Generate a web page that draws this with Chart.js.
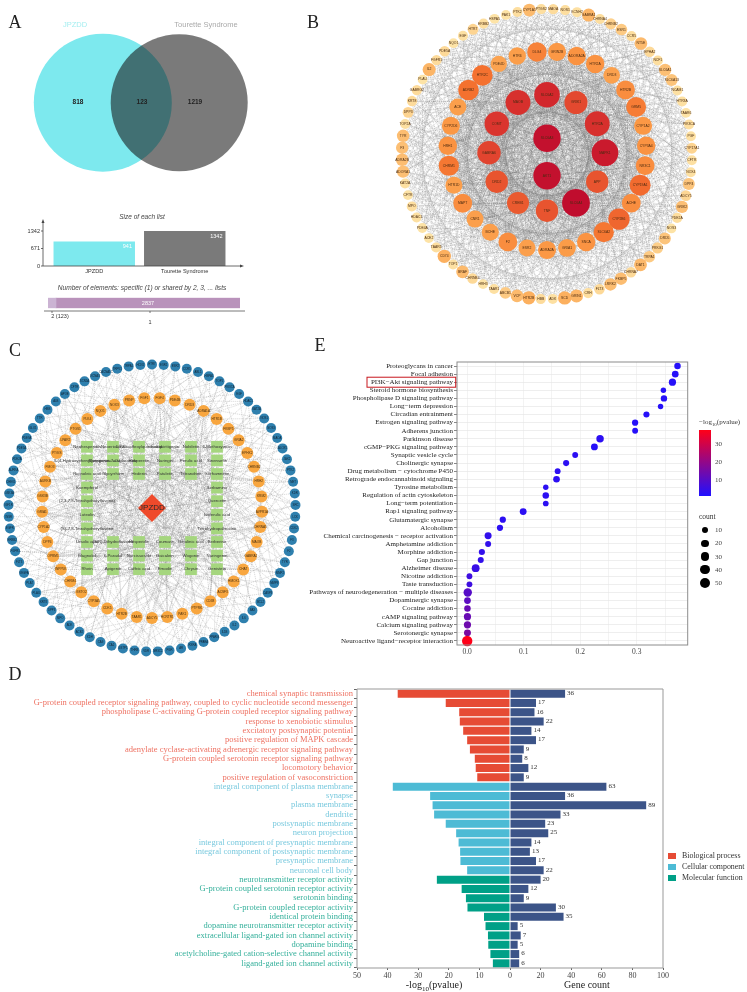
<!DOCTYPE html>
<html>
<head>
<meta charset="utf-8">
<script src="https://cdn.jsdelivr.net/npm/chart.js@4/dist/chart.umd.min.js"></script>
<style>
  html, body { margin: 0; padding: 0; background: #fff; }
  #page { position: relative; width: 747px; height: 992px; overflow: hidden; filter: blur(0.3px); }
  canvas { position: absolute; }
  .t { position: absolute; white-space: nowrap; transform: translate(-50%, -50%); font-family: "Liberation Sans", sans-serif; line-height: 1; }
  .s { font-family: "Liberation Serif", serif; }
  .l { transform: translate(0, -50%); }
  .letter { font-family: "Liberation Serif", serif; font-size: 18px; color: #222; }
  sub { font-size: 70%; line-height: 0; }
  .box { position: absolute; }
</style>
</head>
<body>
<div id="page">
  <div class="t letter" style="left:15px;top:22px">A</div>
  <div class="t letter" style="left:313px;top:22px">B</div>
  <div class="t letter" style="left:15px;top:350px">C</div>
  <div class="t letter" style="left:320px;top:345px">E</div>
  <div class="t letter" style="left:15px;top:674px">D</div>

  <canvas id="venn" width="290" height="180" style="left:0;top:0"></canvas>
  <div class="t" style="left:75px;top:25px;font-size:7.5px;color:#a5eef0">JPZDD</div>
  <div class="t" style="left:206px;top:25px;font-size:7.5px;color:#aaa">Tourette Syndrome</div>

  <div class="t" style="left:142px;top:217px;font-size:6.5px;font-style:italic;color:#444">Size of each list</div>
  <canvas id="listSize" width="250" height="65" style="left:0;top:215px"></canvas>
  <div class="t" style="left:142px;top:288px;font-size:6.6px;font-style:italic;color:#444">Number of elements: specific (1) or shared by 2, 3, ... lists</div>
  <canvas id="shared" width="210" height="28" style="left:40px;top:292px"></canvas>
  <div class="t" style="left:60px;top:317px;font-size:5.5px;color:#333">2 (123)</div>
  <div class="t" style="left:150px;top:323px;font-size:5.5px;color:#333">1</div>

  <canvas id="netB" width="310" height="310" style="left:392px;top:-2px"></canvas>
  <canvas id="netC" width="310" height="310" style="left:-3px;top:353px"></canvas>

  <canvas id="pathways" width="400" height="307" style="left:300px;top:350px"></canvas>
  <div class="t s l" style="left:699px;top:422px;font-size:7px;color:#333">&minus;log<sub>10</sub>(pvalue)</div>
  <div class="box" style="left:699px;top:430px;width:12px;height:66px;background:linear-gradient(to top,#2010ff,#ff0018)"></div>
  <div class="t s l" style="left:715px;top:444px;font-size:7px;color:#444">30</div>
  <div class="t s l" style="left:715px;top:462px;font-size:7px;color:#444">20</div>
  <div class="t s l" style="left:715px;top:480px;font-size:7px;color:#444">10</div>
  <div class="t s l" style="left:699px;top:517px;font-size:7.5px;color:#333">count</div>
  <div id="countKey"></div>

  <canvas id="goLeft" width="520" height="300" style="left:0;top:680px"></canvas>
  <canvas id="goRight" width="247" height="300" style="left:500px;top:680px"></canvas>
  <div class="t s" style="left:434px;top:985px;font-size:10px;color:#222">-log<sub>10</sub>(pvalue)</div>
  <div class="t s" style="left:587px;top:985px;font-size:10px;color:#222">Gene count</div>
  <div id="goKey"></div>
</div>

<script>
// panel A
const vennSets = ['JPZDD', 'Tourette Syndrome'];
const vennCounts = [818, 123, 1219];
const listTotals = [941, 1342];
const listTicks = [0, 671, 1342];
const sharedCounts = [123, 2837];

// panel B, rings from the centre out, clockwise from the top
const bCentre = ['SLC6A3', 'AKT1'];
const bCentreDegree = [108, 108];
const bInner = ['SLC6A2', 'GRIK1', 'HTR2A', 'MAPK1', 'APP', 'SLC6A4', 'TNF', 'CREB1', 'DRD2', 'GABRA6', 'COMT', 'MAOB'];
const bInnerDegree = [98, 84, 94, 104, 80, 110, 80, 78, 80, 86, 92, 94];
const bMiddle = ['GRIN2B', 'ADORA2A', 'HTR2A', 'DRD3', 'HTR2B', 'GRM5', 'CYP1A2', 'CYP3A4', 'NR3C1', 'CYP19A1', 'ACHE', 'CYP2B6', 'SLC6A2', 'SNCA', 'GRIA1', 'ADRA2A', 'ESR2', 'F2', 'BCHE', 'CNR1', 'MAPT', 'HTR1D', 'CHRM1', 'HRH1', 'CYP2D6', 'ACE', 'ADRB2', 'HTR2C', 'PDE4D', 'HTR6', 'DLG4'];
const bMiddleDegree = [56, 58, 58, 48, 60, 66, 56, 58, 60, 72, 60, 74, 68, 58, 54, 56, 50, 60, 50, 50, 60, 50, 68, 58, 56, 50, 70, 70, 46, 52, 64];
const bOuter = ['CYP1A1', 'PTGS2', 'MAOA', 'NOS1', 'KCNH2', 'GABRA1', 'CHRNA4', 'CHRNB2', 'ESR1', 'CCR5', 'NT5E', 'EPHA2', 'NCF1', 'SLC6A1', 'SLC6A13', 'NCAM1', 'HTR3A', 'TAAR6', 'PIK3CA', 'PGF', 'CYP17A1', 'CFTR', 'NOX4', 'DPP4', 'ADCY5', 'GRIK2', 'PDE2A', 'NOS3', 'DRD5', 'PRKG1', 'TRPA1', 'DAT1', 'CHRNA7', 'FKBP5', 'LRRK2', 'FLT3', 'CRH', 'GRIN1', 'SCD', 'ADK', 'HBB', 'HTR2B', 'VCP', 'ABCB1', 'TAAR1', 'HRH3', 'CHRNB4', 'BRAF', 'TOP1', 'CD74', 'TAAR5', 'ACE2', 'PDE4A', 'HDAC1', 'MPO', 'CFTR', 'KAT2A', 'ADORA1', 'ADRA2B', 'F3', 'TYR', 'TOP2A', 'DPP3', 'KRT8', 'GABRG2', 'PLAU', 'IL2', 'FGFR1', 'PDE5A', 'NQO1', 'EGF', 'HTR7', 'ERBB2', 'HSPA5', 'PAK1', 'PTK2'];
const bOuterDegree = [26, 12, 13, 12, 11, 28, 12, 17, 20, 12, 26, 14, 12, 24, 22, 11, 11, 10, 12, 11, 16, 11, 11, 22, 15, 24, 12, 10, 22, 18, 20, 27, 14, 25, 25, 14, 12, 28, 30, 11, 13, 30, 26, 20, 11, 10, 14, 26, 11, 30, 12, 10, 10, 11, 12, 10, 11, 24, 25, 24, 25, 11, 16, 13, 13, 10, 28, 13, 14, 10, 11, 16, 12, 10, 10, 12];
const bLevels = [10, 30, 55, 70, 85, 100, 110];
const bShades = ['#fde3a6', '#fcb05f', '#fb9b47', '#f4712f', '#e2462f', '#d0222c', '#c00d2e'];

// panel C
const cHub = 'JPZDD';
const cCompounds = [
  'Neohesperidin', 'Neoeriocitrin', '1,3-Dicaffeoylquinic acid', 'Isoliquiritigenin', 'Nobiletin', '6-Methoxytricin',
  '3-(4-Hydroxyphenyl)propanoic acid', 'Naringenin-7-O-glucoside', 'Hesperetin', 'Naringin', 'Ferulic acid', 'Sinensetin',
  'Ricinoleic acid', 'Glycyrrhizin', 'Hederin', 'Patuletin', 'Tetrandrine', 'Isorhamnetin',
  'Kaempferol', 'Berbamine', '(2,3,7,8-Tetrahydroxyflavone)', 'Quercetin', 'Luteolin', 'Isoferulic acid',
  '(S)-7,8-Tetrahydroxyflavone', 'Tetrahydropalmatine', 'Ursolic acid', '(S,R)-Dihydroflavonol',
  'Hesperidin', 'Coumarin', 'Betulinic acid', 'Berberine', 'Magnolol', '6-Paradol',
  'Narcissoside', 'Baicalein', 'Wogonin', 'Naringenin', 'Rhein', 'Apigenin',
  'Caffeic acid', 'Emodin', 'Chrysin', 'Genistein'
];
const cOrange = ['FGF1', 'FGF4', 'PDE4B', 'DRD3', 'ADRA1A', 'HTR1B', 'FKBP5', 'GRIA2', 'EPHX2', 'CHRNB2', 'HRH2', 'KRM2', 'AVPR1A', 'CHRNA5', 'MAOB', 'GABRA2', 'CHAT', 'HMOX1', 'ACSF3', 'CD38', 'PTPRK', 'PAK1', 'HCRTR1', 'ADCY5', 'TAAR1', 'HTR2B', 'CDK5', 'CYP3A5', 'GSTO2', 'CHRM4', 'INPP5K', 'OPRM1', 'DPP4', 'CYP1A2', 'GRIA1', 'GSK3B', 'AURKB', 'FMO3', 'PTGIS', 'LPAR2', 'PTGS1', 'PLK4', 'NQO1', 'NOX3', 'PRNP'];
const cBlue = ['HTR7', 'ESR1', 'ESR2', 'CCR5', 'ABL1', 'HSPA5', 'TOP1', 'PIK3CA', 'EGF', 'HDAC1', 'KAT2A', 'NOS1', 'NOS3', 'MAOA', 'ALOX5', 'JAK2', 'PTK2', 'MET', 'KDR', 'SRC', 'LCK', 'CDK2', 'F3', 'F2', 'TYR', 'MMP2', 'MMP9', 'CASP3', 'BCL2', 'BAX', 'IL6', 'IL2', 'IL1B', 'PPARG', 'PPARA', 'RXRA', 'AR', 'PGR', 'NR3C2', 'VDR', 'THRB', 'GSTP1', 'CA2', 'CA9', 'XDH', 'ACE2', 'ADK', 'MPO', 'DPP3', 'KRT8', 'PLAU', 'PLAT', 'VEGFA', 'FLT3', 'FGFR1', 'ERBB2', 'EGFR', 'INSR', 'IGF1R', 'GSK3A', 'CHEK1', 'AURKA', 'PDE2A', 'PDE5A', 'PDE9A', 'GLO1', 'TTR', 'HBB', 'ALB', 'APOE', 'CFTR', 'SCN5A', 'KCNA3', 'CACNA1C', 'TRPV1', 'TRPA1', 'HCN1'];

// panel E
const pathwayNames = ['Proteoglycans in cancer', 'Focal adhesion', 'PI3K\u2212Akt signaling pathway', 'Steroid hormone biosynthesis', 'Phospholipase D signaling pathway', 'Long\u2212term depression', 'Circadian entrainment', 'Estrogen signaling pathway', 'Adherens junction', 'Parkinson disease', 'cGMP\u2212PKG signaling pathway', 'Synaptic vesicle cycle', 'Cholinergic synapse', 'Drug metabolism \u2212 cytochrome P450', 'Retrograde endocannabinoid signaling', 'Tyrosine metabolism', 'Regulation of actin cytoskeleton', 'Long\u2212term potentiation', 'Rap1 signaling pathway', 'Glutamatergic synapse', 'Alcoholism', 'Chemical carcinogenesis \u2212 receptor activation', 'Amphetamine addiction', 'Morphine addiction', 'Gap junction', 'Alzheimer disease', 'Nicotine addiction', 'Taste transduction', 'Pathways of neurodegeneration \u2212 multiple diseases', 'Dopaminergic synapse', 'Cocaine addiction', 'cAMP signaling pathway', 'Calcium signaling pathway', 'Serotonergic synapse', 'Neuroactive ligand\u2212receptor interaction'];
const pathwayRatio = [0.372, 0.368, 0.363, 0.347, 0.348, 0.342, 0.317, 0.297, 0.297, 0.235, 0.225, 0.191, 0.175, 0.160, 0.158, 0.139, 0.139, 0.139, 0.099, 0.063, 0.058, 0.037, 0.037, 0.026, 0.024, 0.015, 0.004, 0.004, 0.001, 0.0005, 0.0005, 0.0005, 0.0005, 0.0005, 0];
const pathwayCount = [14, 15, 20, 6, 13, 6, 11, 12, 9, 22, 17, 9, 11, 9, 15, 6, 14, 8, 17, 12, 12, 18, 10, 11, 10, 26, 9, 9, 32, 16, 14, 20, 20, 18, 55];
const pathwayLogP = [2, 2, 2, 2, 2, 2, 2, 2, 2, 3, 2, 3, 3, 3, 3, 3, 3, 3, 3, 3, 3, 4, 4, 4, 4, 5, 6, 6, 10, 11, 13, 13, 14, 16, 38];
const countKeyValues = [10, 20, 30, 40, 50];

// panel D
const bpTerms = ['chemical synaptic transmission', 'G-protein coupled receptor signaling pathway, coupled to cyclic nucleotide second messenger', 'phospholipase C-activating G-protein coupled receptor signaling pathway', 'response to xenobiotic stimulus', 'excitatory postsynaptic potential', 'positive regulation of MAPK cascade', 'adenylate cyclase-activating adrenergic receptor signaling pathway', 'G-protein coupled serotonin receptor signaling pathway', 'locomotory behavior', 'positive regulation of vasoconstriction'];
const ccTerms = ['integral component of plasma membrane', 'synapse', 'plasma membrane', 'dendrite', 'postsynaptic membrane', 'neuron projection', 'integral component of presynaptic membrane', 'integral component of postsynaptic membrane', 'presynaptic membrane', 'neuronal cell body'];
const mfTerms = ['neurotransmitter receptor activity', 'G-protein coupled serotonin receptor activity', 'serotonin binding', 'G-protein coupled receptor activity', 'identical protein binding', 'dopamine neurotransmitter receptor activity', 'extracellular ligand-gated ion channel activity', 'dopamine binding', 'acetylcholine-gated cation-selective channel activity', 'ligand-gated ion channel activity'];
const bpLogP = [36.7, 21, 16.6, 16.4, 15.3, 14, 13.1, 11.5, 11.2, 10.7];
const ccLogP = [38.3, 26.1, 25.3, 24.8, 21, 17.6, 16.8, 16.3, 16.2, 14];
const mfLogP = [23.9, 15.8, 14.4, 13.9, 8.5, 8, 7.2, 7.1, 6.4, 5.6];
const geneCounts = [36, 17, 16, 22, 14, 17, 9, 8, 12, 9, 63, 36, 89, 33, 23, 25, 14, 13, 17, 22, 20, 12, 9, 30, 35, 5, 7, 5, 6, 6];
const goNames = ['Biological process', 'Cellular component', 'Molecular function'];

Chart.defaults.animation = false;
Chart.defaults.responsive = false;
Chart.defaults.events = [];
Chart.defaults.layout.autoPadding = false;
Chart.defaults.plugins.legend.display = false;
Chart.defaults.plugins.tooltip.enabled = false;

const SERIF = '"Liberation Serif", serif';
const SANS = '"Liberation Sans", sans-serif';

function hidden(min, max) {
  return { type: 'linear', display: false, min: min, max: max };
}

// names written on top of the nodes of a dataset
const nodeNames = {
  id: 'nodeNames',
  afterDatasetsDraw(chart) {
    const ctx = chart.ctx;
    ctx.save();
    ctx.textAlign = 'center';
    ctx.textBaseline = 'middle';
    chart.data.datasets.forEach((ds, i) => {
      if (!ds.names) return;
      ctx.font = ds.nameFont;
      ctx.fillStyle = ds.nameColor;
      chart.getDatasetMeta(i).data.forEach((el, k) => ctx.fillText(ds.names[k], el.x, el.y));
    });
    ctx.restore();
  },
};

function ringNodes(names, radius, startDeg, cy) {
  const step = 360 / names.length;
  return names.map((n, i) => {
    const a = (startDeg + i * step) * Math.PI / 180;
    return { x: radius * Math.sin(a), y: cy + radius * Math.cos(a) };
  });
}

function pushEdge(list, a, b) {
  list.push({ x: a.x, y: a.y }, { x: b.x, y: b.y }, { x: null, y: null });
}

function edgeSet(points, colour, width) {
  return { type: 'scatter', data: points, showLine: true, spanGaps: false, pointRadius: 0, borderColor: colour, borderWidth: width, borderDash: [1.2, 0.8], order: 5, clip: false };
}

// ---- A
new Chart(document.getElementById('venn'), {
  type: 'bubble',
  data: {
    datasets: [
      { data: [{ x: 38.2, y: 0, r: 68.5 }], backgroundColor: 'rgba(18,18,18,0.56)', borderWidth: 0, order: 1, clip: false },
      { data: [{ x: -38.2, y: 0, r: 69 }], backgroundColor: '#7de9ee', borderWidth: 0, order: 2, clip: false },
    ],
  },
  options: { layout: { padding: 0 }, scales: { x: hidden(-141, 149), y: hidden(-77.3, 102.7) } },
  plugins: [{
    id: 'vennCounts',
    afterDatasetsDraw(chart) {
      const c = chart.ctx;
      const offsets = [-63, 1, 54];
      c.save();
      c.font = 'bold 6.5px ' + SANS;
      c.fillStyle = '#222';
      c.textAlign = 'center';
      c.textBaseline = 'middle';
      vennCounts.forEach((v, i) => c.fillText(v, chart.scales.x.getPixelForValue(offsets[i]), chart.scales.y.getPixelForValue(0)));
      c.restore();
    },
  }],
});

new Chart(document.getElementById('listSize'), {
  type: 'bar',
  data: {
    labels: vennSets,
    datasets: [{ data: listTotals, backgroundColor: ['#7de9ee', '#7a7a7a'], barPercentage: 0.9, categoryPercentage: 1 }],
  },
  options: {
    layout: { padding: { top: 16, right: 20 } },
    scales: {
      x: {
        afterFit(s) { s.height = 14; },
        grid: { display: false, drawTicks: false }, border: { display: false },
        ticks: { font: { size: 5.6, family: SANS }, color: '#333', padding: 2, maxRotation: 0 },
      },
      y: {
        min: 0, max: 1342,
        afterFit(s) { s.width = 49; },
        afterBuildTicks(s) { s.ticks = listTicks.map(v => ({ value: v })); },
        grid: { display: false, drawTicks: false }, border: { display: false },
        ticks: { font: { size: 5.6, family: SANS }, color: '#333', padding: 9, callback: v => String(v) },
      },
    },
  },
  plugins: [{
    id: 'arrowAxes',
    afterDatasetsDraw(chart) {
      const c = chart.ctx;
      const y = chart.scales.y;
      const base = y.getPixelForValue(0);
      c.save();
      c.strokeStyle = '#444';
      c.fillStyle = '#444';
      c.lineWidth = 0.8;
      c.beginPath();
      c.moveTo(43, base); c.lineTo(43, 7);
      c.moveTo(43, base); c.lineTo(241, base);
      listTicks.forEach(v => { c.moveTo(41, y.getPixelForValue(v)); c.lineTo(43, y.getPixelForValue(v)); });
      c.stroke();
      c.beginPath(); c.moveTo(43, 4); c.lineTo(41.5, 8); c.lineTo(44.5, 8); c.closePath(); c.fill();
      c.beginPath(); c.moveTo(244, base); c.lineTo(240, base - 1.5); c.lineTo(240, base + 1.5); c.closePath(); c.fill();
      c.font = '5.5px ' + SANS;
      c.fillStyle = '#fff';
      c.textAlign = 'right';
      c.textBaseline = 'middle';
      const bars = chart.getDatasetMeta(0).data;
      bars.forEach((b, i) => c.fillText(listTotals[i], b.x + b.width / 2 - 3, b.y + 5));
      c.restore();
    },
  }],
});

new Chart(document.getElementById('shared'), {
  type: 'bar',
  data: {
    labels: ['lists'],
    datasets: [
      { data: [sharedCounts[0]], backgroundColor: '#cbb3d3', barPercentage: 1, categoryPercentage: 1 },
      { data: [sharedCounts[1]], backgroundColor: '#b992bb', barPercentage: 1, categoryPercentage: 1 },
    ],
  },
  options: {
    indexAxis: 'y',
    layout: { padding: { left: 8, right: 10, top: 5.7, bottom: 11.7 } },
    scales: {
      x: { stacked: true, display: false, min: 0, max: sharedCounts[0] + sharedCounts[1] },
      y: { stacked: true, display: false },
    },
  },
  plugins: [{
    id: 'sharedAxis',
    afterDatasetsDraw(chart) {
      const c = chart.ctx;
      const x = chart.scales.x;
      const bar = chart.getDatasetMeta(1).data[0];
      c.save();
      c.font = '5.5px ' + SANS;
      c.fillStyle = '#fff';
      c.textAlign = 'center';
      c.textBaseline = 'middle';
      c.fillText(sharedCounts[1], x.getPixelForValue(sharedCounts[0] + sharedCounts[1] / 2), bar.y);
      c.strokeStyle = '#555';
      c.lineWidth = 0.8;
      c.beginPath();
      c.moveTo(4, 19); c.lineTo(205, 19);
      c.moveTo(x.getPixelForValue(sharedCounts[0] / 2), 19); c.lineTo(x.getPixelForValue(sharedCounts[0] / 2), 21);
      c.moveTo(110, 19); c.lineTo(110, 21);
      c.stroke();
      c.restore();
    },
  }],
});

// ---- B
function degreeShade(d) {
  let k = 0;
  while (k < bLevels.length - 2 && d > bLevels[k + 1]) k++;
  const t = Math.min(1, Math.max(0, (d - bLevels[k]) / (bLevels[k + 1] - bLevels[k])));
  const rgb = s => [1, 3, 5].map(p => parseInt(s.substr(p, 2), 16));
  const a = rgb(bShades[k]);
  const b = rgb(bShades[k + 1]);
  return 'rgb(' + a.map((v, i) => Math.round(v + (b[i] - v) * t)).join(',') + ')';
}

const bCentrePts = ringNodes(bCentre, 18.8, 0, -4);
const bInnerPts = ringNodes(bInner, 58, 0, 0.3);
const bMiddlePts = ringNodes(bMiddle, 99.3, 5.8, 2.3);
const bOuterPts = ringNodes(bOuter, 145, -7, -1);
const bCore = bCentrePts.concat(bInnerPts);

// wiring of the network is only indicative, single edges cannot be read off the picture
const bEdges = [];
bCore.forEach((a, i) => {
  bCore.forEach((b, j) => { if (j > i) pushEdge(bEdges, a, b); });
  bMiddlePts.forEach(b => pushEdge(bEdges, a, b));
  bOuterPts.forEach((b, j) => { if (j % 5 === i % 5) pushEdge(bEdges, a, b); });
});
[4, 6, 8, 9, 10, 11, 12, 13, 14, 15].forEach(step => {
  bMiddlePts.forEach((a, i) => pushEdge(bEdges, a, bMiddlePts[(i + step) % bMiddlePts.length]));
});
[-24, -14, -7, 6, 15, 23, 33].forEach(off => {
  bMiddlePts.forEach((a, i) => {
    const k = (Math.round(i * bOuter.length / bMiddle.length) + off + bOuter.length) % bOuter.length;
    pushEdge(bEdges, a, bOuterPts[k]);
  });
});
[13, 19, 24, 31].forEach(step => {
  bOuterPts.forEach((a, i) => pushEdge(bEdges, a, bOuterPts[(i + step) % bOuterPts.length]));
});

function ringDataset(names, pts, degrees) {
  return {
    data: pts.map((p, i) => ({ x: p.x, y: p.y, r: 4 + degrees[i] * 0.09 })),
    backgroundColor: degrees.map(degreeShade),
    borderWidth: 0,
    order: 1,
    clip: false,
    names: names,
    nameFont: '3.4px ' + SANS,
    nameColor: '#4a2a10',
  };
}

new Chart(document.getElementById('netB'), {
  type: 'bubble',
  data: {
    datasets: [
      edgeSet(bEdges, 'rgba(120,120,120,0.6)', 0.4),
      ringDataset(bOuter, bOuterPts, bOuterDegree),
      ringDataset(bMiddle, bMiddlePts, bMiddleDegree),
      ringDataset(bInner, bInnerPts, bInnerDegree),
      ringDataset(bCentre, bCentrePts, bCentreDegree),
    ],
  },
  options: { scales: { x: hidden(-155, 155), y: hidden(-155, 155) } },
  plugins: [nodeNames],
});

// ---- C
const cBluePts = ringNodes(cBlue, 143.5, 0, 0);
const cOrangePts = ringNodes(cOrange, 110, -4, 0);
const cGridPts = [];
for (let row = 0; row < 10; row++) {
  for (let col = 0; col < 6; col++) {
    if (row > 2 && row < 7 && col > 0 && col < 5) continue;
    cGridPts.push({ x: -65 + col * 26, y: 61.2 - row * 13.6 });
  }
}
const cHubPt = { x: 0, y: 0 };
const cEdges = [];
cGridPts.forEach((p, i) => {
  pushEdge(cEdges, cHubPt, p);
  [0, 7, 13, 22, 31, 38].forEach(off => pushEdge(cEdges, p, cOrangePts[(i * 3 + off) % cOrangePts.length]));
  [4, 19, 33, 48, 62].forEach(off => pushEdge(cEdges, p, cBluePts[(i * 5 + off) % cBluePts.length]));
});
cOrangePts.forEach((p, i) => {
  [-6, 2, 11].forEach(off => {
    pushEdge(cEdges, p, cBluePts[(Math.round(i * cBlue.length / cOrange.length) + off + cBlue.length) % cBlue.length]);
  });
});

new Chart(document.getElementById('netC'), {
  type: 'bubble',
  data: {
    datasets: [
      edgeSet(cEdges, 'rgba(125,125,125,0.6)', 0.45),
      { type: 'scatter', data: [cHubPt], pointStyle: 'rectRot', pointRadius: 14, backgroundColor: '#ef4a2b', borderWidth: 0, order: 1, clip: false, names: [cHub], nameFont: '8px ' + SANS, nameColor: '#2a2a2a' },
      { type: 'scatter', data: cGridPts, pointStyle: 'rect', pointRadius: 8.3, backgroundColor: '#a5d67e', borderWidth: 0, order: 2, clip: false, names: cCompounds, nameFont: '4.3px ' + SANS, nameColor: '#333' },
      { data: cOrangePts.map(p => ({ x: p.x, y: p.y, r: 6 })), backgroundColor: '#f8a63f', borderWidth: 0, order: 3, clip: false, names: cOrange, nameFont: '3.2px ' + SANS, nameColor: '#4a3010' },
      { data: cBluePts.map(p => ({ x: p.x, y: p.y, r: 5 })), backgroundColor: '#2f80ae', borderWidth: 0, order: 4, clip: false, names: cBlue, nameFont: '2.8px ' + SANS, nameColor: '#123' },
    ],
  },
  options: { scales: { x: hidden(-155, 155), y: hidden(-155, 155) } },
  plugins: [nodeNames],
});

// ---- E
function countRadius(n) {
  return Math.sqrt(5 + 0.4 * n);
}
function logPShade(v) {
  const t = Math.min(1, Math.max(0, (v - 1) / 37));
  return 'rgb(' + Math.round(32 + 223 * t) + ',' + Math.round(16 * (1 - t)) + ',' + Math.round(255 - 231 * t) + ')';
}

new Chart(document.getElementById('pathways'), {
  type: 'bubble',
  data: {
    labels: pathwayNames,
    datasets: [{
      data: pathwayNames.map((n, i) => ({ x: pathwayRatio[i], y: n, r: countRadius(pathwayCount[i]) })),
      backgroundColor: pathwayLogP.map(logPShade),
      borderWidth: 0,
      clip: false,
    }],
  },
  options: {
    layout: { padding: { top: 12, right: 12.3 } },
    scales: {
      x: {
        type: 'linear', min: -0.018, max: 0.39,
        afterFit(s) { s.height = 12; },
        afterBuildTicks(s) { s.ticks = [0, 0.05, 0.1, 0.15, 0.2, 0.25, 0.3, 0.35].map(v => ({ value: v })); },
        grid: { color: '#eeeeee', lineWidth: 0.7, tickLength: 0 },
        border: { display: false },
        ticks: {
          font: { size: 7.5, family: SERIF }, color: '#444', padding: 3, maxRotation: 0,
          callback: v => (Math.round(v * 100) % 10 === 0 ? v.toFixed(1) : ''),
        },
      },
      y: {
        type: 'category', labels: pathwayNames, offset: true,
        afterFit(s) { s.width = 157; },
        grid: { color: '#e6e6e6', lineWidth: 0.7, tickLength: 3, tickColor: '#555', offset: false },
        border: { display: false },
        ticks: { font: { size: 7, family: SERIF }, color: '#222', padding: 1, autoSkip: false },
      },
    },
  },
  plugins: [{
    id: 'frameAndBox',
    afterDatasetsDraw(chart) {
      const c = chart.ctx;
      const a = chart.chartArea;
      c.save();
      c.strokeStyle = '#8c8c8c';
      c.lineWidth = 1;
      c.strokeRect(a.left, a.top, a.right - a.left, a.bottom - a.top);
      const y = chart.scales.y.getPixelForValue(pathwayNames[2]);
      c.strokeStyle = '#c8161d';
      c.strokeRect(67, y - 5, 88.7, 10);
      c.restore();
    },
  }],
});

const countKey = document.getElementById('countKey');
countKeyValues.forEach((v, i) => {
  const r = countRadius(v);
  const cy = 530 + i * 13.3;
  const dot = document.createElement('div');
  dot.className = 'box';
  dot.style.cssText = 'left:' + (705 - r) + 'px;top:' + (cy - r) + 'px;width:' + (2 * r) + 'px;height:' + (2 * r) + 'px;border-radius:50%;background:#000';
  countKey.appendChild(dot);
  const lab = document.createElement('div');
  lab.className = 't s l';
  lab.style.cssText = 'left:715px;top:' + cy + 'px;font-size:7px;color:#444';
  lab.textContent = v;
  countKey.appendChild(lab);
});

// ---- D
const goTerms = bpTerms.concat(ccTerms, mfTerms);
const goLogP = bpLogP.concat(ccLogP, mfLogP);
const goBarColours = ['#e64b35', '#4dbbd5', '#00a087'];
const goTextColours = ['#ee7263', '#79c9de', '#35b09b'];
function groupOf(i) {
  return i < bpTerms.length ? 0 : i < bpTerms.length + ccTerms.length ? 1 : 2;
}

function frame(side) {
  return {
    id: 'frame',
    afterDatasetsDraw(chart) {
      const c = chart.ctx;
      const a = chart.chartArea;
      const edge = side === 'left' ? a.left : a.right;
      const mid = side === 'left' ? a.right : a.left;
      c.save();
      c.strokeStyle = '#999';
      c.lineWidth = 1;
      c.beginPath();
      c.moveTo(mid, a.top); c.lineTo(edge, a.top); c.lineTo(edge, a.bottom); c.lineTo(mid, a.bottom);
      c.stroke();
      c.restore();
    },
  };
}

new Chart(document.getElementById('goLeft'), {
  type: 'bar',
  data: {
    labels: goTerms,
    datasets: [{ data: goLogP, backgroundColor: goTerms.map((t, i) => goBarColours[groupOf(i)]), barPercentage: 0.86, categoryPercentage: 1 }],
  },
  options: {
    indexAxis: 'y',
    layout: { padding: { top: 9, right: 10 } },
    scales: {
      x: {
        reverse: true, min: 0, max: 50,
        afterFit(s) { s.height = 12; },
        grid: { drawOnChartArea: false, tickLength: 2, color: '#666' },
        border: { display: false },
        ticks: { stepSize: 10, font: { size: 8, family: SERIF }, color: '#444', padding: 1, maxRotation: 0, callback: v => (v === 0 ? '' : v) },
      },
      y: {
        afterFit(s) { s.width = 357; },
        grid: { drawOnChartArea: false, tickLength: 3, color: '#666' },
        border: { display: false },
        ticks: { font: { size: 8.5, family: SERIF }, color: c => goTextColours[groupOf(c.index)], padding: 1, autoSkip: false },
      },
    },
  },
  plugins: [frame('left')],
});

new Chart(document.getElementById('goRight'), {
  type: 'bar',
  data: {
    labels: goTerms,
    datasets: [{ data: geneCounts, backgroundColor: '#3c5488', barPercentage: 0.86, categoryPercentage: 1 }],
  },
  options: {
    indexAxis: 'y',
    layout: { padding: { top: 9, left: 10, right: 84 } },
    scales: {
      x: {
        min: 0, max: 100,
        afterFit(s) { s.height = 12; },
        grid: { drawOnChartArea: false, tickLength: 2, color: '#666' },
        border: { display: false },
        ticks: { stepSize: 20, font: { size: 8, family: SERIF }, color: '#444', padding: 1, maxRotation: 0 },
      },
      y: { display: false },
    },
  },
  plugins: [frame('right'), {
    id: 'countLabels',
    afterDatasetsDraw(chart) {
      const c = chart.ctx;
      c.save();
      c.font = '7px ' + SERIF;
      c.fillStyle = '#333';
      c.textBaseline = 'middle';
      chart.getDatasetMeta(0).data.forEach((b, i) => c.fillText(geneCounts[i], b.x + 2, b.y - 0.5));
      c.restore();
    },
  }],
});

const goKey = document.getElementById('goKey');
goNames.forEach((name, i) => {
  const cy = 856 + i * 11;
  const sw = document.createElement('div');
  sw.className = 'box';
  sw.style.cssText = 'left:668px;top:' + (cy - 3) + 'px;width:8px;height:6px;background:' + goBarColours[i];
  goKey.appendChild(sw);
  const lab = document.createElement('div');
  lab.className = 't s l';
  lab.style.cssText = 'left:682px;top:' + cy + 'px;font-size:7.9px;color:#333';
  lab.textContent = name;
  goKey.appendChild(lab);
});
</script>
</body>
</html>
